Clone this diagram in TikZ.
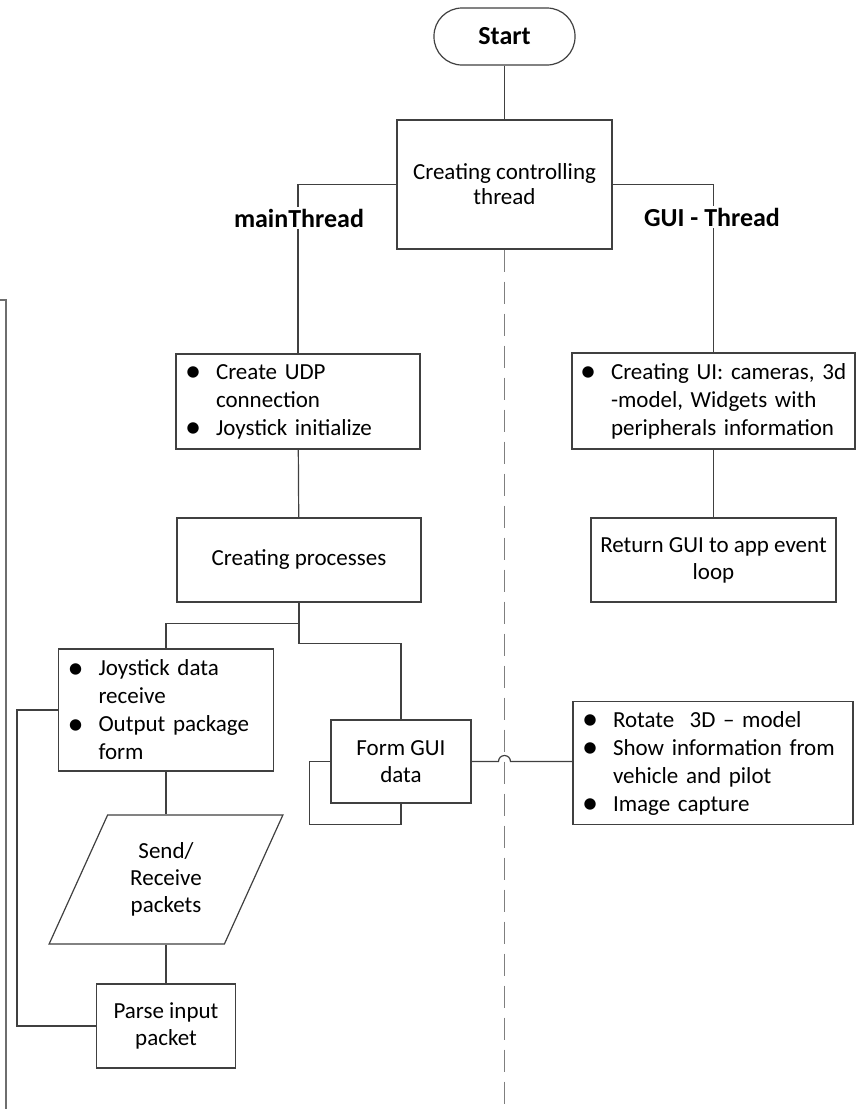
\documentclass[tikz,border=0pt]{standalone}
\usepackage{fontspec}
\setmainfont{Carlito}
\definecolor{lineGray}{HTML}{404040}
\definecolor{dashGray}{HTML}{7F7F7F}
\definecolor{frameGray}{HTML}{6E6E6E}
\usetikzlibrary{calc, shapes.geometric, positioning}
\newcommand{\bitem}[1]{\noindent\hangindent=31pt\hangafter=1\rightskip=0pt plus 1fil\hyphenpenalty=10000\makebox[31pt][l]{\smash{\raisebox{-0.1em}{\scalebox{1.4}{\textbullet}}}}#1\par}

\begin{document}
\begin{tikzpicture}
		[x=1pt, y=-1pt,
		block/.style ={rectangle, draw=lineGray, line width=1.2pt, fill=white, align=center, font=\fontsize{23}{27}\selectfont, inner sep=4pt},
		listblock/.style ={rectangle, draw=lineGray, line width=1.2pt, fill=white, align=left, font=\fontsize{23}{28}\selectfont, inner xsep=9pt},
		terminal/.style ={rectangle, rounded corners=28pt, draw=lineGray, line width=1.2pt, fill=white, font=\fontsize{26}{30}\selectfont\bfseries, minimum width=141pt, minimum height=57pt},
		io/.style ={trapezium, trapezium left angle=64, trapezium right angle=116, trapezium stretches=true, draw=lineGray, line width=1.2pt, fill=white, align=center, font=\fontsize{23}{27}\selectfont, minimum width=234pt, minimum height=129pt},
		link/.style ={draw=lineGray, line width=1.2pt},
		threadlabel/.style ={fill=white, font=\fontsize{26}{30}\selectfont\bfseries, inner sep=2pt}]
		\useasboundingbox (0,0) rectangle (862,1109);

		\draw (504.5,36.5) node[terminal] (start) {Start};
		\draw (504.5,184.5) node[block, minimum width=215pt, minimum height=129pt, font=\fontsize{23}{25}\selectfont] (ctrl) {Creating controlling\\thread};

		\draw (298,401.5) node[listblock, text width=226pt, minimum height=95pt] (udp) {\bitem{Create UDP\newline connection}\bitem{Joystick initialize}};
		\draw (299,560) node[block, minimum width=244pt, minimum height=84pt] (procs) {Creating processes};
		\draw (166,710) node[listblock, text width=197pt, minimum height=122pt] (joy) {\bitem{Joystick data\newline receive}\bitem{Output package\newline form}};
		\draw (166,879.5) node[io] (send) {Send/\\Receive\\packets};
		\draw (166,1026) node[block, minimum width=139pt, minimum height=84pt] (parse) {Parse input\\packet};
		\draw (401,761.5) node[block, minimum width=140pt, minimum height=83pt] (formgui) {Form GUI\\data};

		\draw (713.5,401) node[listblock, text width=267pt, minimum height=96pt, inner xsep=8pt] (ui) {\bitem{\mbox{Creating UI: cameras, 3d}\newline -model, Widgets with\newline peripherals information}};
		\draw (713.5,560) node[block, minimum width=245pt, minimum height=84pt] (ret) {Return GUI to app event\\loop};
		\draw (713,763) node[listblock, text width=262pt, minimum height=123pt] (rotate) {\bitem{Rotate~ 3D -- model}\bitem{Show information from\newline vehicle and pilot}\bitem{Image capture}};

		\coordinate (divEnd) at (504.5,1109);
		\draw[dashGray, line width=1.6pt, dash pattern=on 22pt off 10pt] (ctrl.south) -- (divEnd);
		\draw[frameGray, line width=2pt] (0,300) -- (6,300) -- (6,1109);

		\draw[link] (start) -- (ctrl);
		\draw[link] (ctrl.west) -| (udp.north);
		\draw[link] (ctrl.east) -| (ui.north);
		\draw[link] (udp) -- (procs);
		\draw[link] (procs.south) -- ++(0,21) -| (joy.north);
		\draw[link] (procs.south) -- ++(0,41) -| (formgui.north);
		\draw[link] (joy.south) -- (joy.south |- send.north);
		\draw[link] (parse.north |- send.south) -- (parse.north);
		\draw[link] (joy.west) -- ++(-41,0) |- (parse.west);
		\draw[link] (formgui.west) -- ++(-21,0) |- ($(formgui.south)+(0,21)$) -- (formgui.south);
		\draw[link] (formgui.east) -- ($(formgui.east -| divEnd)+(-6,0)$) arc[start angle=180, end angle=0, radius=6pt] -- (rotate.west |- formgui.east);
		\draw[link] (ui) -- (ret);

		\draw (299,218) node[threadlabel] (mainlbl) {mainThread};
		\draw (712,217) node[threadlabel] (guilbl) {GUI - Thread};
	\end{tikzpicture}
\end{document}
